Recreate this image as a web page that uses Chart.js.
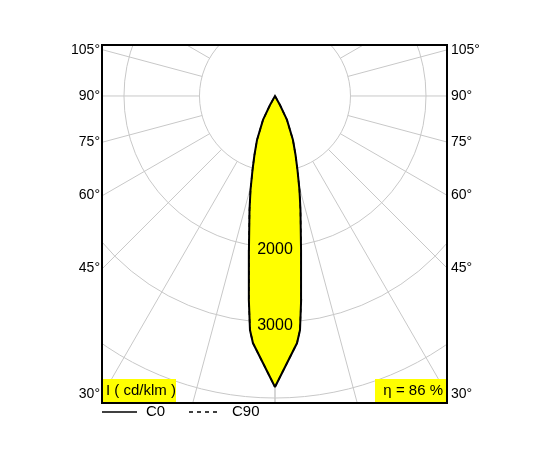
<!DOCTYPE html>
<html>
<head>
<meta charset="utf-8">
<script src="https://cdn.jsdelivr.net/npm/chart.js@4/dist/chart.umd.min.js"></script>
<style>
  html, body { margin: 0; padding: 0; background: #fff; }
  #wrap { width: 550px; height: 450px; }
</style>
</head>
<body>
<div id="wrap"><canvas id="polar"></canvas></div>
<script>
// gamma angles (deg from nadir) and intensities in cd/klm
const gammaC0 = [0, 5.1, 6.1, 7.3, 9.6, 12.6, 14.6, 16.9, 19.2, 22.2, 26.6, 29, 30];
const intensityC0 = [3854, 3285, 3117, 2724, 2069, 1547, 1286, 1025, 828, 630, 355, 136, 0];
const gammaC90 = [0, 5.1, 6.1, 7.3, 9.6, 12.6, 14.6, 16.9, 19.2, 22.2, 26.6, 29, 30];
const intensityC90 = [3854, 3285, 3117, 2724, 2069, 1547, 1286, 1025, 828, 630, 355, 136, 0];

const ringValues = [1000, 2000, 3000, 4000, 5000];
const ringLabels = ['2000', '3000'];
const angleLabels = ['105°', '90°', '75°', '60°', '45°', '30°'];
const labelAngles = [105, 90, 75, 60, 45, 30];
const spokeAngles = [0, 15, 30, 45, 60, 75, 90, 105, 120, 135, 150, 165, 180];
const unitText = 'I ( cd/klm )';
const etaText = 'η = 86 %';

const FONT = '"Liberation Sans", Arial, sans-serif';

// closed outline: right half from nadir up to the tip, then left half back down
const toPoints = (g, v) => {
    const pts = [];
    for (let i = 0; i < g.length; i++) {
        const r = g[i] * Math.PI / 180;
        pts.push({ x: v[i] * Math.sin(r), y: -v[i] * Math.cos(r) });
    }
    for (let i = g.length - 2; i >= 0; i--) {
        const r = g[i] * Math.PI / 180;
        pts.push({ x: -v[i] * Math.sin(r), y: -v[i] * Math.cos(r) });
    }
    return pts;
};

const polarGrid = {
    id: 'polarGrid',
    beforeDatasetsDraw(chart) {
        const { ctx, chartArea: a, scales: { x, y } } = chart;
        const cx = x.getPixelForValue(0), cy = y.getPixelForValue(0);
        const k = x.getPixelForValue(1000) - cx;
        ctx.save();
        ctx.beginPath();
        ctx.rect(a.left, a.top, a.right - a.left, a.bottom - a.top);
        ctx.clip();
        ctx.strokeStyle = '#c8c8c8';
        ctx.lineWidth = 1;
        ringValues.forEach(v => {
            ctx.beginPath();
            ctx.arc(cx, cy, v / 1000 * k, 0, Math.PI * 2);
            ctx.stroke();
        });
        spokeAngles.forEach(d => {
            const r = d * Math.PI / 180;
            ctx.beginPath();
            for (const s of [-1, 1]) {
                ctx.moveTo(cx + s * Math.sin(r) * k, cy + Math.cos(r) * k);
                ctx.lineTo(cx + s * Math.sin(r) * 900, cy + Math.cos(r) * 900);
            }
            ctx.stroke();
        });
        ctx.restore();

        // yellow fill of the C0 outline
        const meta = chart.getDatasetMeta(0);
        ctx.save();
        ctx.beginPath();
        meta.data.forEach((p, i) => i ? ctx.lineTo(p.x, p.y) : ctx.moveTo(p.x, p.y));
        ctx.closePath();
        ctx.fillStyle = '#ffff00';
        ctx.fill();
        ctx.restore();
    },
    afterDatasetsDraw(chart) {
        const { ctx, chartArea: a, scales: { x, y } } = chart;
        const cx = x.getPixelForValue(0), cy = y.getPixelForValue(0);
        ctx.save();
        ctx.fillStyle = '#000';
        ctx.font = '16px ' + FONT;
        ctx.textAlign = 'center';
        ctx.textBaseline = 'middle';
        ringLabels.forEach(t => ctx.fillText(t, cx, y.getPixelForValue(-Number(t)) + 3));

        ctx.strokeStyle = '#000';
        ctx.lineWidth = 2;
        ctx.strokeRect(a.left, a.top, a.right - a.left, a.bottom - a.top);

        // angle labels where the spokes hit the frame
        ctx.font = '14px ' + FONT;
        const half = a.right - cx;
        labelAngles.forEach((d, i) => {
            const py = cy + half / Math.tan(d * Math.PI / 180);
            ctx.textAlign = 'right';
            ctx.fillText(angleLabels[i], a.left - 2, py);
            ctx.textAlign = 'left';
            ctx.fillText(angleLabels[i], a.right + 4, py);
        });

        // yellow tags
        ctx.font = '15px ' + FONT;
        ctx.fillStyle = '#ffff00';
        ctx.fillRect(a.left + 1, a.bottom - 24, 73, 23);
        ctx.fillRect(a.right - 72, a.bottom - 24, 71, 23);
        ctx.fillStyle = '#000';
        ctx.textAlign = 'left';
        ctx.fillText(unitText, a.left + 4, a.bottom - 12);
        ctx.textAlign = 'right';
        ctx.fillText(etaText, a.right - 4, a.bottom - 12);

        // legend
        ctx.lineWidth = 1.5;
        ctx.beginPath();
        ctx.moveTo(102, 412); ctx.lineTo(137, 412);
        ctx.stroke();
        ctx.setLineDash([4, 4]);
        ctx.beginPath();
        ctx.moveTo(189, 412); ctx.lineTo(220, 412);
        ctx.stroke();
        ctx.textAlign = 'left';
        ctx.fillText('C0', 146, 412);
        ctx.fillText('C90', 232, 412);
        ctx.restore();
    }
};

new Chart(document.getElementById('polar'), {
    type: 'scatter',
    data: {
        datasets: [
            {
                label: 'C0',
                data: toPoints(gammaC0, intensityC0),
                showLine: true,
                borderColor: '#000',
                borderWidth: 2,
                pointRadius: 0,
                tension: 0
            },
            {
                label: 'C90',
                data: toPoints(gammaC90, intensityC90),
                showLine: true,
                borderColor: '#000',
                borderWidth: 1.5,
                borderDash: [4, 4],
                pointRadius: 0,
                tension: 0
            }
        ]
    },
    plugins: [polarGrid],
    options: {
        responsive: true,
        maintainAspectRatio: false,
        animation: false,
        layout: { padding: { left: 102, right: 103, top: 45, bottom: 47 } },
        plugins: { legend: { display: false }, tooltip: { enabled: false } },
        scales: {
            x: { display: false, min: -2291, max: 2278 },
            y: { display: false, min: -4066, max: 675 }
        }
    }
});
</script>
</body>
</html>
